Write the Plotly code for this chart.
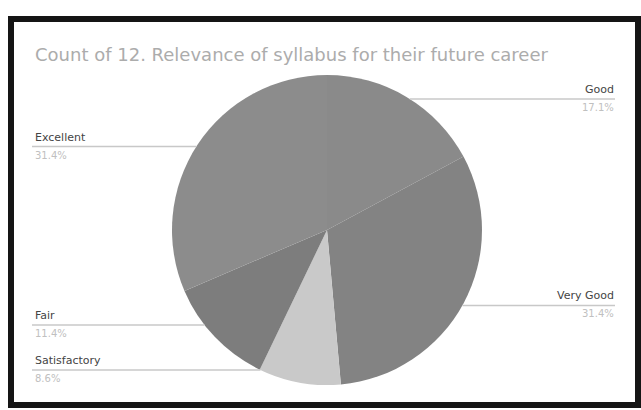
import math
import plotly.graph_objects as go

# ---- data ----
categories = ["Good", "Very Good", "Satisfactory", "Fair", "Excellent"]
counts = [6, 11, 3, 4, 11]
pct_labels = ["17.1%", "31.4%", "8.6%", "11.4%", "31.4%"]
slice_colors = ["#8a8a8a", "#838383", "#c9c9c9", "#7d7d7d", "#8c8c8c"]
title_text = "Count of 12. Relevance of syllabus for their future career"

W, H = 641, 410
cx, cy, R = 327, 230, 155  # pie geometry in pixels

fig = go.Figure()
fig.add_trace(go.Pie(
    labels=categories, values=counts, sort=False, direction="clockwise",
    rotation=0, textinfo="none", hoverinfo="label+percent",
    marker=dict(colors=slice_colors, line=dict(width=0)),
    domain=dict(x=[(cx - R) / W, (cx + R) / W], y=[(H - cy - R) / H, (H - cy + R) / H]),
    showlegend=False,
))

# label positions from slice mid-angles
total = sum(counts)
cum = 0
items = []
for cat, v, p in zip(categories, counts, pct_labels):
    mid = (cum + v / 2) / total * 2 * math.pi
    cum += v
    side = "right" if math.sin(mid) >= 0 else "left"
    y = cy - R * math.cos(mid)
    items.append([cat, p, side, y])

# keep labels inside frame and spaced apart (bottom-up per side)
for side in ("left", "right"):
    group = sorted([it for it in items if it[2] == side], key=lambda t: -t[3])
    limit = 368
    for it in group:
        if it[3] > limit:
            it[3] = limit
        limit = it[3] - 45

FONT = "DejaVu Sans, Liberation Sans, Arial"
shapes = []
annotations = []
for cat, p, side, y in items:
    y = y + 2
    dy = min(abs(y - cy), R)
    half = math.sqrt(max(R * R - dy * dy, 0))
    if side == "right":
        x0, x1 = cx + half, 615
        tx, anchor = 616, "right"
    else:
        x0, x1 = 32, cx - half
        tx, anchor = 33, "left"
    shapes.append(dict(type="line", xref="paper", yref="paper",
                       x0=x0 / W, x1=x1 / W, y0=(H - y) / H, y1=(H - y) / H,
                       line=dict(color="#c8c8c8", width=1.5)))
    annotations.append(dict(text=cat, x=tx / W, y=(H - y + 1) / H, xref="paper", yref="paper",
                            xanchor=anchor, yanchor="bottom", showarrow=False,
                            font=dict(size=11, color="#444444", family=FONT)))
    annotations.append(dict(text=p, x=tx / W, y=(H - y - 1) / H, xref="paper", yref="paper",
                            xanchor=anchor, yanchor="top", showarrow=False,
                            font=dict(size=10, color="#c0c0c0", family=FONT)))

annotations.append(dict(text=title_text, x=33 / W, y=(H - 54) / H, xref="paper", yref="paper",
                        xanchor="left", yanchor="middle", showarrow=False,
                        font=dict(size=18, color="#acacac", family=FONT)))

# photo frame border
shapes.append(dict(type="rect", xref="paper", yref="paper",
                   x0=11 / W, x1=638 / W, y0=(H - 405) / H, y1=(H - 19) / H,
                   line=dict(color="#151515", width=6)))

fig.update_layout(
    width=W, height=H, margin=dict(l=0, r=0, t=0, b=0),
    paper_bgcolor="white", plot_bgcolor="white",
    shapes=shapes, annotations=annotations,
)
fig.write_html("out.html", config={"displayModeBar": False},
               post_script="document.body.style.margin='0';document.body.style.overflow='hidden';")
